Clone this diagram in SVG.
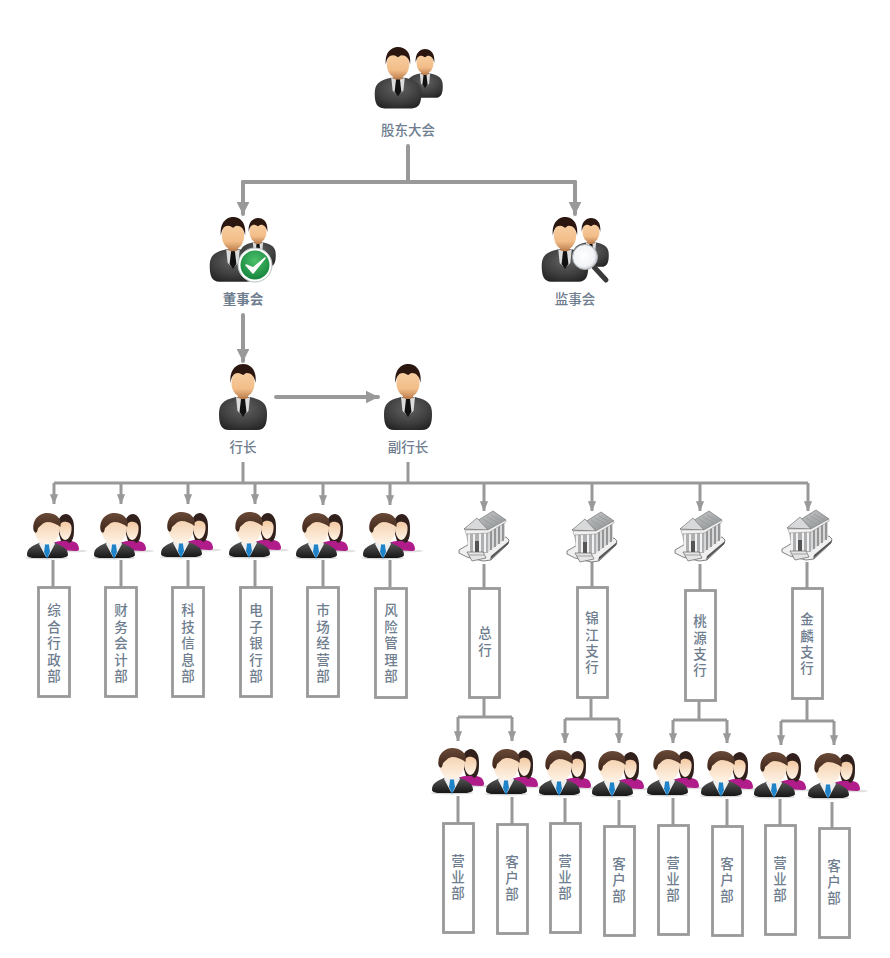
<svg xmlns="http://www.w3.org/2000/svg" width="890" height="958" viewBox="0 0 890 958">
<style>
.c{fill:none;stroke:#999;stroke-width:3;stroke-linejoin:round}
.m{stroke-width:4;stroke-linecap:round}
.b{fill:#fff;stroke:#999;stroke-width:2.800}
.t{font:500 13.500px "Liberation Sans","Noto Sans CJK SC",sans-serif;fill:#6f7e8f;text-anchor:middle}
.h{font-weight:700}
</style>
<defs>
<marker id="a" viewBox="0 0 8 8" refX="7.6" refY="4" markerWidth="3.2" markerHeight="3.2" orient="auto" markerUnits="strokeWidth"><path d="M0,0L8,4L0,8Z" fill="#999"/></marker>
<marker id="s" viewBox="0 0 10 8" refX="9.6" refY="4" markerWidth="3.400" markerHeight="2.720" orient="auto" markerUnits="strokeWidth"><path d="M0,0L10,4L0,8Z" fill="#999"/></marker>
<radialGradient id="suit" cx=".5" cy=".35" r=".75"><stop offset="0" stop-color="#626262"/><stop offset=".6" stop-color="#3e3e3e"/><stop offset="1" stop-color="#202020"/></radialGradient>
<linearGradient id="skin" x1="0" y1="0" x2="0" y2="1"><stop offset="0" stop-color="#f9d2a6"/><stop offset=".7" stop-color="#f2bd88"/><stop offset="1" stop-color="#c28655"/></linearGradient>
<linearGradient id="skin2" x1="0" y1="0" x2="0" y2="1"><stop offset="0" stop-color="#f3c8a0"/><stop offset=".6" stop-color="#f9e2ca"/><stop offset="1" stop-color="#fff4e8"/></linearGradient>
<linearGradient id="jack" x1="0" y1="0" x2="0" y2="1"><stop offset="0" stop-color="#5a5a5a"/><stop offset="1" stop-color="#161616"/></linearGradient>
<linearGradient id="hair" x1="0" y1="0" x2="0" y2="1"><stop offset="0" stop-color="#6a4a38"/><stop offset="1" stop-color="#3b2418"/></linearGradient>
<radialGradient id="green" cx=".5" cy=".35" r=".7"><stop offset="0" stop-color="#4cc06a"/><stop offset="1" stop-color="#12803a"/></radialGradient>
<radialGradient id="lens" cx=".45" cy=".45" r=".6"><stop offset="0" stop-color="#fff"/><stop offset=".7" stop-color="#f2f4f6"/><stop offset="1" stop-color="#b9bfc5"/></radialGradient>
<linearGradient id="roof" x1="0" y1="0" x2="1" y2="1"><stop offset="0" stop-color="#d2d4d5"/><stop offset="1" stop-color="#8a8e90"/></linearGradient>
<g id="man">
<path d="M-24,50C-24,40-20,36-7,33L7,33C20,36 24,40 24,50C24,60 22,66 14,66L-14,66C-22,66-24,60-24,50Z" fill="url(#suit)"/>
<path d="M-5,27H5V35L0,40L-5,35Z" fill="#b97c4c"/>
<ellipse cy="19" rx="11.500" ry="14.500" fill="url(#skin)"/>
<path d="M-12.500,19C-14,5-6,0 0,0C7,0 14,5 12.500,19C11.500,12 8,9 4,9C2,9 1,11 0,11C-2,10-3,9-5,9C-9,9-11.500,12-12.500,19Z" fill="#2b1710"/>
<path d="M-7,33L0,36L7,33L5.500,47L0,52L-5.500,47Z" fill="#dcdcdc"/>
<path d="M-2,35H2L3.500,48L0,53L-3.500,48Z" fill="#111"/>
</g>
<g id="pair">
<ellipse cx="0" cy="45" rx="21.500" ry="1.500" fill="#bbb" opacity=".6"/>
<ellipse cx="27" cy="38" rx="13" ry="1.300" fill="#ccc" opacity=".6"/>
<path d="M6,30C12,27 28,26 31,32C33,37 32,38 28,38L12,37Z" fill="#b01c8a"/>
<path d="M11,14C10,5 15,1 19,1C25,2 27,8 27,14C27,21 27,25 24,29C23,30 21,30 20,28L14,28C12,22 11,18 11,14Z" fill="#32201c"/>
<path d="M12,14C13,9 17,8 20,9C24,10 25,13 24.500,17C24,23 21,27 18,27C14,26 12,20 12,14Z" fill="url(#skin2)"/>
<path d="M-20,42C-20,35-15,33-6,29L6,29C15,33 21,35 21,42C21,43 18,45 12,45L-12,45C-18,45-20,43-20,42Z" fill="url(#jack)"/>
<path d="M-6,27L0,31L6,27L8,31L1,44L-1,44L-8,31Z" fill="#eee"/>
<path d="M-1.800,31H1.800L3,39L0,46L-3,39Z" fill="#1e83c8"/>
<ellipse cy="16" rx="12.500" ry="15.500" fill="url(#skin2)"/>
<path d="M-13.500,17C-15,5-6,0 0,0C9,0 15,5 13.500,14C10,11 5,9 0,9C-5,10-6,13-9,15C-10,21-12,21-13.500,17Z" fill="url(#hair)"/>
</g>
<g id="bank">
<path d="M0,39L12,32L47,26L50,29L49,33L32,49L24,50L8,46L0,42Z" fill="#f0f0f0" stroke="#666" stroke-width=".8"/>
<path d="M31,49L49,33L50,30L32,45Z" fill="#555"/>
<path d="M7,22L29,19L29,42L10,42Z" fill="#aeb0b1"/>
<path d="M29,17L46,8V28L29,41Z" fill="#d6d7d8"/>
<path d="M32,18V39M36,16V36M40,13V33M44,10V30" stroke="#808080" stroke-width="1.500"/>
<path d="M10,23V41M15,23V41M21,22V41M26,21V41" stroke="#f2f2f2" stroke-width="2"/>
<path d="M16,30H20V41H16Z" fill="#555"/>
<path d="M5,18L34,0L47,9L29,19Z" fill="url(#roof)" stroke="#777" stroke-width=".7"/>
<path d="M24,8L37,16M28,6L41,13M32,4L44,11" stroke="#999" stroke-width=".8"/>
<path d="M5,18L18,7L29,19Z" fill="#d8d9da" stroke="#777" stroke-width=".7"/>
<path d="M6,19L29,19L47,9V11L29,22L7,23Z" fill="#f2f2f2" stroke="#888" stroke-width=".5"/>
<path d="M8,41L24,41L27,47L13,50Z" fill="#e4e4e4" stroke="#666" stroke-width=".7"/>
<path d="M10,44L25,44" stroke="#888" stroke-width=".7"/>
</g>
</defs>
<g id="connectors">
<path class="c m" d="M408,146V182M243,182H575"/>
<path class="c m" d="M243,182V214" marker-end="url(#a)"/>
<path class="c m" d="M575,182V214" marker-end="url(#a)"/>
<path class="c m" d="M243,315V361" marker-end="url(#a)"/>
<path class="c m" d="M276,397H378" marker-end="url(#a)"/>
<path class="c" d="M243,462V483M408,462V483M54,483H808"/>
<path class="c" d="M54,483V504" marker-end="url(#s)"/>
<path class="c" d="M121,483V504" marker-end="url(#s)"/>
<path class="c" d="M188,483V504" marker-end="url(#s)"/>
<path class="c" d="M255,483V504" marker-end="url(#s)"/>
<path class="c" d="M323,483V505" marker-end="url(#s)"/>
<path class="c" d="M390,483V505" marker-end="url(#s)"/>
<path class="c" d="M484,483V511" marker-end="url(#s)"/>
<path class="c" d="M592,483V511" marker-end="url(#s)"/>
<path class="c" d="M700,483V511" marker-end="url(#s)"/>
<path class="c" d="M808,483V511" marker-end="url(#s)"/>
<path class="c" d="M53,560V587M121,560V587M188,560V587M255,560V587M323,560V587M390,560V587M484,564V588M592,562V587M700,564V590M807,562V588"/>
<path class="c" d="M484,698V717M458,717H512"/>
<path class="c" d="M458,717V741" marker-end="url(#s)"/>
<path class="c" d="M512,717V741" marker-end="url(#s)"/>
<path class="c" d="M591,698V719M565,719H619"/>
<path class="c" d="M565,719V743" marker-end="url(#s)"/>
<path class="c" d="M619,719V743" marker-end="url(#s)"/>
<path class="c" d="M699,701V720M673,720H727"/>
<path class="c" d="M673,720V743" marker-end="url(#s)"/>
<path class="c" d="M727,720V743" marker-end="url(#s)"/>
<path class="c" d="M807,699V721M781,721H834"/>
<path class="c" d="M781,721V745" marker-end="url(#s)"/>
<path class="c" d="M834,721V745" marker-end="url(#s)"/>
<path class="c" d="M458,796V823M512,797V824M565,798V823M619,800V826M673,798V825M727,799V826M780,799V825M832,802V828"/>
</g>
<g id="gudong">
<use href="#man" transform="translate(425,49) scale(.74)"/>
<use href="#man" transform="translate(398,47) scale(.97,.93)"/>
<text class="t" x="408" y="135">股东大会</text>
</g>
<g id="dongshi">
<use href="#man" transform="translate(258,218) scale(.74)"/>
<use href="#man" transform="translate(233,217) scale(.97,.98)"/>
<circle cx="255" cy="265" r="17" fill="#fff" stroke="#b8c4bc"/>
<circle cx="255" cy="265" r="14.500" fill="url(#green)"/>
<path d="M246,265L253,273L265,258L253,268Z" fill="#fff" stroke="#fff" stroke-width="1.500" stroke-linejoin="round"/>
<text class="t h" x="243" y="304">董事会</text>
</g>
<g id="jianshi">
<use href="#man" transform="translate(591,218) scale(.74)"/>
<use href="#man" transform="translate(565,217) scale(.97,.98)"/>
<path d="M594,267L606,280" stroke="#3a3a3a" stroke-width="5" stroke-linecap="round"/>
<circle cx="585" cy="257" r="12.500" fill="url(#lens)" stroke="#a8adb2"/>
<text class="t" x="575" y="304">监事会</text>
</g>
<g id="hangzhang">
<use href="#man" transform="translate(243,364)"/>
<text class="t" x="243" y="452">行长</text>
</g>
<g id="fuhangzhang">
<use href="#man" transform="translate(408,364)"/>
<text class="t" x="408" y="452">副行长</text>
</g>
<g id="dept1"><use href="#pair" transform="translate(47,513)"/><rect class="b" x="38.500" y="587.500" width="31" height="109"/><text class="t"><tspan x="54" y="615">综</tspan><tspan x="54" y="632">合</tspan><tspan x="54" y="648">行</tspan><tspan x="54" y="665">政</tspan><tspan x="54" y="681">部</tspan></text></g>
<g id="dept2"><use href="#pair" transform="translate(114,513)"/><rect class="b" x="105.500" y="587.500" width="31" height="109"/><text class="t"><tspan x="121" y="615">财</tspan><tspan x="121" y="632">务</tspan><tspan x="121" y="648">会</tspan><tspan x="121" y="665">计</tspan><tspan x="121" y="681">部</tspan></text></g>
<g id="dept3"><use href="#pair" transform="translate(181,512)"/><rect class="b" x="172.500" y="587.500" width="31" height="109"/><text class="t"><tspan x="188" y="615">科</tspan><tspan x="188" y="632">技</tspan><tspan x="188" y="648">信</tspan><tspan x="188" y="665">息</tspan><tspan x="188" y="681">部</tspan></text></g>
<g id="dept4"><use href="#pair" transform="translate(249,512)"/><rect class="b" x="240.500" y="587.500" width="31" height="109"/><text class="t"><tspan x="256" y="615">电</tspan><tspan x="256" y="632">子</tspan><tspan x="256" y="648">银</tspan><tspan x="256" y="665">行</tspan><tspan x="256" y="681">部</tspan></text></g>
<g id="dept5"><use href="#pair" transform="translate(316,513)"/><rect class="b" x="307.500" y="587.500" width="31" height="109"/><text class="t"><tspan x="323" y="615">市</tspan><tspan x="323" y="632">场</tspan><tspan x="323" y="648">经</tspan><tspan x="323" y="665">营</tspan><tspan x="323" y="681">部</tspan></text></g>
<g id="dept6"><use href="#pair" transform="translate(383,513)"/><rect class="b" x="375.500" y="588.500" width="31" height="109"/><text class="t"><tspan x="391" y="615">风</tspan><tspan x="391" y="632">险</tspan><tspan x="391" y="648">管</tspan><tspan x="391" y="665">理</tspan><tspan x="391" y="681">部</tspan></text></g>
<g id="zonghang"><use href="#bank" transform="translate(459,511)"/><rect class="b" x="469.500" y="588.500" width="30" height="109"/><text class="t"><tspan x="485" y="638">总</tspan><tspan x="485" y="655">行</tspan></text></g>
<g id="jinjiang"><use href="#bank" transform="translate(567,512)"/><rect class="b" x="577.500" y="587.500" width="30" height="110"/><text class="t"><tspan x="592" y="623">锦</tspan><tspan x="592" y="640">江</tspan><tspan x="592" y="656">支</tspan><tspan x="592" y="672">行</tspan></text></g>
<g id="taoyuan"><use href="#bank" transform="translate(675,511)"/><rect class="b" x="685.500" y="590.500" width="30" height="110"/><text class="t"><tspan x="700" y="626">桃</tspan><tspan x="700" y="643">源</tspan><tspan x="700" y="659">支</tspan><tspan x="700" y="675">行</tspan></text></g>
<g id="jinlin"><use href="#bank" transform="translate(782,510)"/><rect class="b" x="792.500" y="588.500" width="30" height="110"/><text class="t"><tspan x="807" y="624">金</tspan><tspan x="807" y="641">麟</tspan><tspan x="807" y="657">支</tspan><tspan x="807" y="673">行</tspan></text></g>
<g id="b1"><use href="#pair" transform="translate(452,748)"/><rect class="b" x="443.500" y="823.500" width="30" height="109"/><text class="t"><tspan x="458" y="866">营</tspan><tspan x="458" y="882">业</tspan><tspan x="458" y="898">部</tspan></text></g>
<g id="b2"><use href="#pair" transform="translate(506,749)"/><rect class="b" x="497.500" y="824.500" width="30" height="109"/><text class="t"><tspan x="512" y="867">客</tspan><tspan x="512" y="883">户</tspan><tspan x="512" y="899">部</tspan></text></g>
<g id="b3"><use href="#pair" transform="translate(559,750)"/><rect class="b" x="550.500" y="823.500" width="30" height="109"/><text class="t"><tspan x="565" y="866">营</tspan><tspan x="565" y="882">业</tspan><tspan x="565" y="898">部</tspan></text></g>
<g id="b4"><use href="#pair" transform="translate(612,751)"/><rect class="b" x="604.500" y="826.500" width="30" height="109"/><text class="t"><tspan x="619" y="869">客</tspan><tspan x="619" y="885">户</tspan><tspan x="619" y="901">部</tspan></text></g>
<g id="b5"><use href="#pair" transform="translate(667,750)"/><rect class="b" x="658.500" y="825.500" width="30" height="109"/><text class="t"><tspan x="673" y="868">营</tspan><tspan x="673" y="884">业</tspan><tspan x="673" y="900">部</tspan></text></g>
<g id="b6"><use href="#pair" transform="translate(721,751)"/><rect class="b" x="712.500" y="826.500" width="30" height="109"/><text class="t"><tspan x="727" y="869">客</tspan><tspan x="727" y="885">户</tspan><tspan x="727" y="901">部</tspan></text></g>
<g id="b7"><use href="#pair" transform="translate(774,752)"/><rect class="b" x="765.500" y="825.500" width="30" height="109"/><text class="t"><tspan x="780" y="868">营</tspan><tspan x="780" y="884">业</tspan><tspan x="780" y="900">部</tspan></text></g>
<g id="b8"><use href="#pair" transform="translate(828,753)"/><rect class="b" x="819.500" y="828.500" width="30" height="109"/><text class="t"><tspan x="834" y="871">客</tspan><tspan x="834" y="887">户</tspan><tspan x="834" y="903">部</tspan></text></g>
</svg>
